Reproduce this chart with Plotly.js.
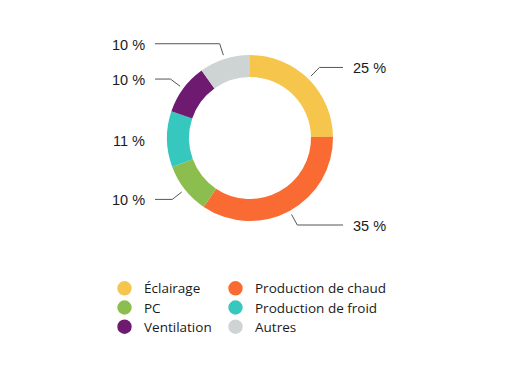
<!DOCTYPE html>
<html>
<head>
<meta charset="utf-8">
<script src="https://cdn.plot.ly/plotly-3.0.1.min.js"></script>
<style>html,body{margin:0;padding:0;background:#fff;}#chart{width:505px;height:387px;}</style>
</head>
<body>
<div id="chart"></div>
<script>
const labels = ['Éclairage', 'Production de chaud', 'PC', 'Production de froid', 'Ventilation', 'Autres'];
const values = [25, 35, 10, 11, 10, 10];
const colors = ['#F6C54B', '#F96B32', '#8CBE4F', '#36C7BE', '#6D1A70', '#CED3D3'];
const pctLabels = values.map(v => v + ' %');

const W = 505, H = 387;
const M = {l: 125, r: 130, t: 0, b: 0};
const domX = [0, 1], domY = [0.4289, 0.8579];
const gsw = W - M.l - M.r, gsh = H - M.t - M.b;
const cx = M.l + gsw * (domX[0] + domX[1]) / 2;
const cy = M.t + gsh * (1 - (domY[0] + domY[1]) / 2);
const R = Math.min(gsw * (domX[1] - domX[0]), gsh * (domY[1] - domY[0])) / 2;
const px2x = px => (px - M.l) / gsw;
const px2y = py => 1 - (py - M.t) / gsh;

const total = values.reduce((a, b) => a + b, 0);
const shapes = [], annotations = [];
let cum = 0;
const lineOff = 95, textGap = 8;
values.forEach((v, i) => {
  const a = (cum + v / 2) / total * 2 * Math.PI;
  cum += v;
  const sx = Math.sin(a), sy = -Math.cos(a);
  const p1 = [cx + (R + 4) * sx, cy + (R + 4) * sy];
  const p2 = [cx + (R + 16) * sx, cy + (R + 16) * sy];
  const right = sx >= 0;
  const endX = right ? cx + lineOff - 2 : cx - lineOff;
  const lineStyle = {color: '#555555', width: 1};
  const drawLine = right ? p2[0] < endX : p2[0] > endX;
  if (drawLine) {
    shapes.push({type: 'line', xref: 'paper', yref: 'paper', x0: px2x(p1[0]), y0: px2y(p1[1]), x1: px2x(p2[0]), y1: px2y(p2[1]), line: lineStyle});
    shapes.push({type: 'line', xref: 'paper', yref: 'paper', x0: px2x(p2[0]), y0: px2y(p2[1]), x1: px2x(endX), y1: px2y(p2[1]), line: lineStyle});
  }
  annotations.push({
    xref: 'paper', yref: 'paper', showarrow: false,
    x: px2x(right ? endX + textGap : endX - textGap), y: px2y(p2[1] + 1),
    xanchor: right ? 'left' : 'right', yanchor: 'middle',
    text: pctLabels[i],
    font: {family: 'Liberation Sans, Arial, sans-serif', size: 14.5, color: '#1a1a1a'}
  });
});

// legend (two columns, row-wise order)
const legColX = [124.5, 235.5], legRowY0 = 288.3, legRowDy = 19.2, legDot = 14.4, legTextDx = 17;
labels.forEach((name, i) => {
  const col = i % 2, row = Math.floor(i / 2);
  const lx = legColX[col], ly = legRowY0 + row * legRowDy;
  shapes.push({
    type: 'circle', xref: 'paper', yref: 'paper',
    xsizemode: 'pixel', ysizemode: 'pixel',
    xanchor: px2x(lx), yanchor: px2y(ly),
    x0: -legDot / 2, x1: legDot / 2, y0: -legDot / 2, y1: legDot / 2,
    fillcolor: colors[i], line: {width: 0}
  });
  annotations.push({
    xref: 'paper', yref: 'paper', showarrow: false,
    x: px2x(lx + legTextDx), y: px2y(ly),
    xanchor: 'left', yanchor: 'middle',
    text: name,
    font: {family: 'Open Sans, sans-serif', size: 13.5, color: '#1a1a1a'}
  });
});

const data = [{
  type: 'pie',
  values: values,
  labels: labels,
  marker: {colors: colors, line: {width: 0}},
  hole: 0.735,
  sort: false,
  direction: 'clockwise',
  rotation: 0,
  textinfo: 'none',
  hoverinfo: 'label+percent',
  showlegend: false,
  domain: {x: domX, y: domY}
}];

const layout = {
  width: W, height: H,
  margin: M,
  paper_bgcolor: '#ffffff', plot_bgcolor: 'rgba(0,0,0,0)',
  showlegend: false,
  shapes: shapes,
  annotations: annotations
};
Plotly.newPlot('chart', data, layout, {displayModeBar: false, staticPlot: true});
</script>
</body>
</html>
